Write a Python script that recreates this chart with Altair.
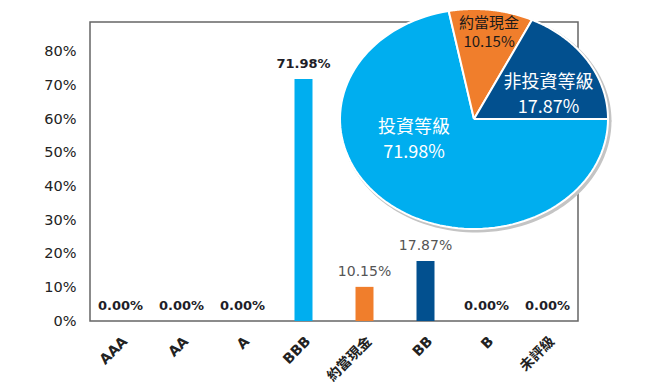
import altair as alt
import pandas as pd

categories = ["AAA", "AA", "A", "BBB", "約當現金", "BB", "B", "未評級"]
bar_values = [0.0, 0.0, 0.0, 71.98, 10.15, 17.87, 0.0, 0.0]
bar_groups = ["none", "none", "none", "投資等級", "約當現金", "非投資等級", "none", "none"]
pie_labels = ["投資等級", "約當現金", "非投資等級"]
pie_values = [71.98, 10.15, 17.87]
y_ticks = [0, 10, 20, 30, 40, 50, 60, 70, 80]

colors = ["#00AEEF", "#F07E2C", "#02508F"]
LATIN = "DejaVu Sans, Noto Sans CJK TC"
CJK = "Noto Sans CJK TC"

bars_df = pd.DataFrame({"cat": categories, "value": bar_values, "group": bar_groups})
pie_df = pd.DataFrame({"label": pie_labels, "value": pie_values, "i": list(range(len(pie_labels)))})

x_enc = alt.X(
    "cat:N", sort=categories,
    scale=alt.Scale(paddingInner=0, paddingOuter=0),
    axis=alt.Axis(labelAngle=-45, labelFontWeight="bold", labelFontSize=14, labelColor="#222",
                  labelFont=LATIN, ticks=False, domain=False, labelPadding=13, title=None),
)
y_enc = alt.Y(
    "value:Q", scale=alt.Scale(domain=[0, 88.9], nice=False),
    axis=alt.Axis(values=y_ticks, labelExpr="datum.value + '%'", ticks=False, domain=False, grid=False,
                  labelPadding=14, labelFontSize=14.5, labelColor="#222", labelFont=LATIN, title=None),
)
color_scale = alt.Scale(domain=pie_labels + ["none"], range=colors + ["#ffffff"])

base = alt.Chart(bars_df).transform_calculate(
    lbl="format(datum.value, '.2f') + '%'"
)
bars = base.mark_bar(size=18).encode(
    x=x_enc, y=y_enc, color=alt.Color("group:N", scale=color_scale, legend=None)
)
txt_bold = base.transform_filter(
    "datum.group != '約當現金' && datum.group != '非投資等級'"
).mark_text(baseline="bottom", dy=-8, fontSize=13, fontWeight="bold", font=LATIN, color="#1e1e28").encode(
    x=x_enc, y=y_enc, text="lbl:N"
)
txt_norm = base.transform_filter(
    "datum.group == '約當現金' || datum.group == '非投資等級'"
).mark_text(baseline="bottom", dy=-8, fontSize=14, font=LATIN, color="#555").encode(
    x=x_enc, y=y_enc, text="lbl:N"
)
bar_layer = alt.layer(bars, txt_bold, txt_norm)

# pie drawn as elliptical polygons computed from the slice values
NSTEP = 100
pie_base = alt.Chart(pie_df).transform_window(
    cum="sum(value)", sort=[alt.SortField("i")], frame=[None, 0]
).transform_joinaggregate(
    total="sum(value)"
).transform_calculate(
    a0="PI/2 + 2*PI*(datum.cum - datum.value)/datum.total",
    a1="PI/2 + 2*PI*datum.cum/datum.total",
)
px_scale = alt.Scale(domain=[-1, 1], range=[250, 518], nice=False, zero=False)
py_scale = alt.Scale(domain=[-1, 1], range=[207, -13], nice=False, zero=False)

poly = pie_base.transform_calculate(
    steps=f"sequence(0, {NSTEP + 2})"
).transform_flatten(["steps"]).transform_calculate(
    step="datum.steps",
    ang=f"datum.a0 + (datum.a1 - datum.a0) * (datum.steps - 1) / {NSTEP - 1}",
).transform_calculate(
    px=f"(datum.step == 0 || datum.step == {NSTEP + 1}) ? 0 : sin(datum.ang)",
    py=f"(datum.step == 0 || datum.step == {NSTEP + 1}) ? 0 : cos(datum.ang)",
)
shadow = poly.mark_line(stroke="#c4c4c4", strokeWidth=3, fill="#c4c4c4", xOffset=2, yOffset=2, strokeJoin="round").encode(
    x=alt.X("px:Q", scale=px_scale, axis=None),
    y=alt.Y("py:Q", scale=py_scale, axis=None),
    order=alt.Order("step:Q"),
    detail="label:N",
)
slices = poly.mark_line(stroke="white", strokeWidth=2, strokeJoin="round").encode(
    x=alt.X("px:Q", scale=px_scale, axis=None),
    y=alt.Y("py:Q", scale=py_scale, axis=None),
    fill=alt.Fill("label:N", scale=alt.Scale(domain=pie_labels, range=colors), legend=None),
    order=alt.Order("step:Q"),
    detail="label:N",
)

lab = pie_base.transform_calculate(
    adj="datum.label == '投資等級' ? 27.3 : datum.label == '約當現金' ? 0.8 : 10.8",
    rr="datum.label == '投資等級' ? 0.487 : datum.label == '約當現金' ? 0.79 : 0.597",
).transform_calculate(
    la="(datum.a0 + datum.a1)/2 + datum.adj*PI/180",
).transform_calculate(
    lx="datum.rr * sin(datum.la)",
    ly="datum.rr * cos(datum.la)",
    pct="format(datum.value, '.2f') + '%'",
)
lx_enc = alt.X("lx:Q", scale=px_scale, axis=None)
ly_enc = alt.Y("ly:Q", scale=py_scale, axis=None)
dark = lab.transform_filter("datum.label == '約當現金'")
white = lab.transform_filter("datum.label != '約當現金'")
dark_name = dark.mark_text(fontSize=15, font=CJK, color="#1a1a1a", baseline="middle", dy=-9.5).encode(
    x=lx_enc, y=ly_enc, text="label:N")
dark_pct = dark.mark_text(fontSize=15, font=CJK, color="#1a1a1a", baseline="middle", dy=9.5).encode(
    x=lx_enc, y=ly_enc, text="pct:N")
white_name = white.mark_text(fontSize=18, font=CJK, color="white", baseline="middle", dy=-12.5).encode(
    x=lx_enc, y=ly_enc, text="label:N")
white_pct = white.mark_text(fontSize=18, font=CJK, color="white", baseline="middle", dy=12.5).encode(
    x=lx_enc, y=ly_enc, text="pct:N")
pie_layer = alt.layer(shadow, slices, dark_name, dark_pct, white_name, white_pct)

chart = alt.layer(bar_layer, pie_layer).resolve_scale(
    x="independent", y="independent", color="independent", fill="independent"
).properties(
    width=488, height=299, autosize="none",
    padding={"left": 82, "top": 14, "right": 40, "bottom": 66},
    background="white",
).configure_view(stroke="#666666", strokeWidth=1.5)

chart.save("out.html", embed_options={"renderer": "svg", "actions": False})
